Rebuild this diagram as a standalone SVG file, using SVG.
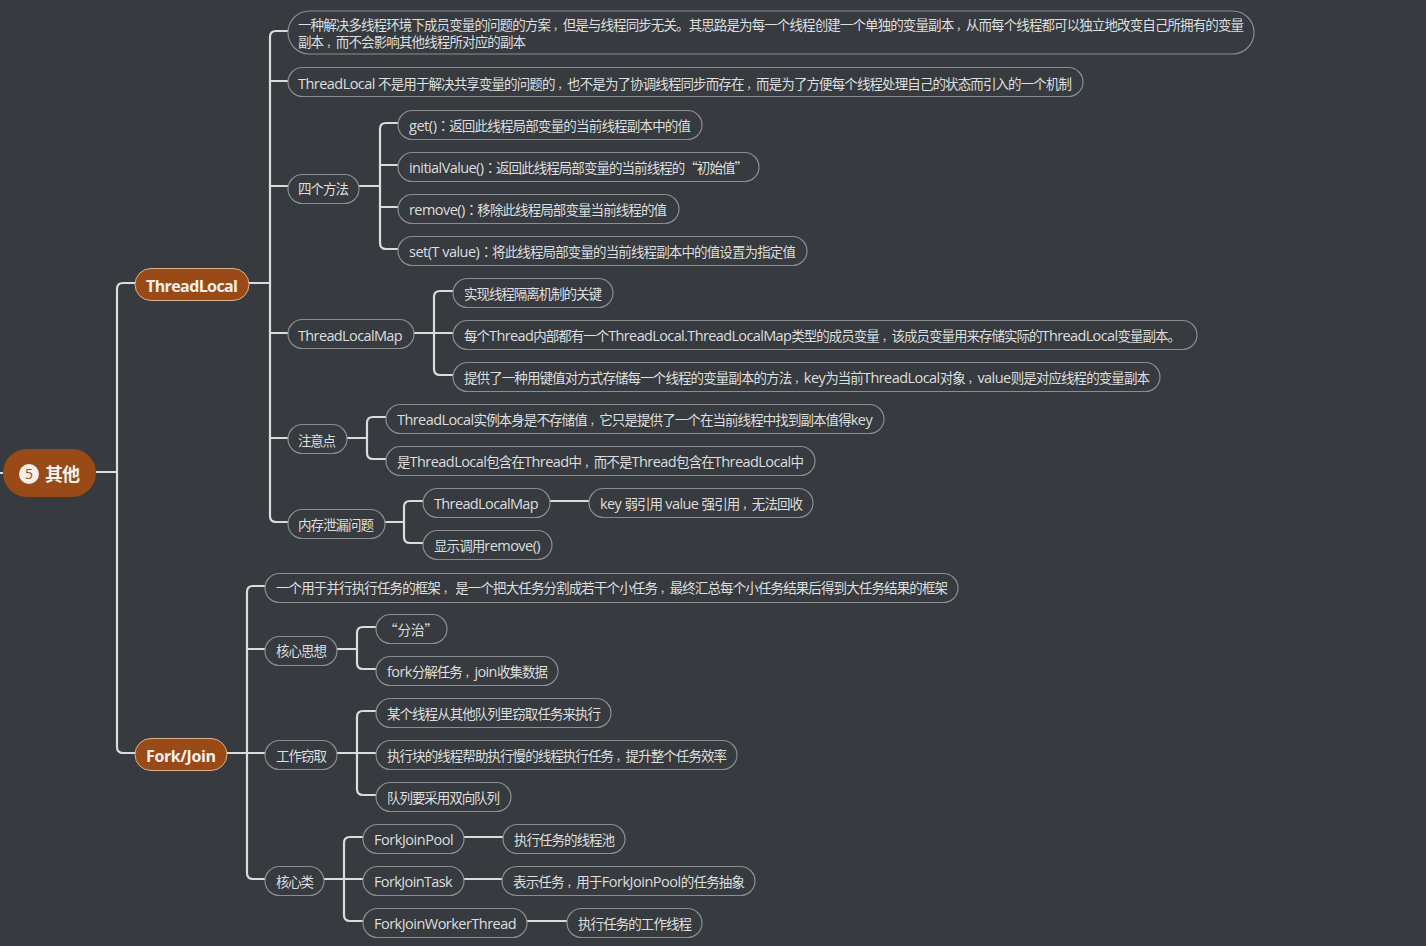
<svg xmlns="http://www.w3.org/2000/svg" width="1426" height="946" viewBox="0 0 1426 946">
<style>
text{font-family:"Open Sans","Noto Sans CJK SC",sans-serif;font-size:13.5px;fill:#dcdfdf}
.l{font-size:14.500px;letter-spacing:.35px}
.q{font-family:"Noto Sans CJK SC",sans-serif}
.c{font-family:"Noto Sans CJK TC",sans-serif}
.k{font-size:10.500px}
.n rect{fill:#373a3e;stroke:#8b8e90;stroke-width:1.2}
.t rect{fill:#9a4a17;stroke:#d9b38f;stroke-width:1}
.t text{font-size:16px;font-weight:700;fill:#f5f2ee}
#connectors path{fill:none;stroke:#dadddd;stroke-width:2.2}
</style>
<rect width="1426" height="946" fill="#373a3e"/>
<g id="connectors">
<path d="M0 473H3M96 472H117M135 283H123Q117 283 117 289V747Q117 753 123 753H135"/>
<path d="M249 283H270M288 31H276Q270 31 270 37V516Q270 522 276 522H288M270 81H288M270 186H288M270 333H288M270 438H288"/>
<path d="M359 186H380M398 123H386Q380 123 380 129V243Q380 249 386 249H398M380 165H398M380 207H398"/>
<path d="M414 333H434M453 291H440Q434 291 434 297V369Q434 375 440 375H453M434 333H453"/>
<path d="M347 438H367M386 417H373Q367 417 367 423V453Q367 459 373 459H386"/>
<path d="M385 522H404M423 501H410Q404 501 404 507V537Q404 543 410 543H423M550 501H589"/>
<path d="M227 753H265M265 586H253Q247 586 247 592V873Q247 879 253 879H265M247 649H265"/>
<path d="M337 649H357M376 627H363Q357 627 357 633V663Q357 669 363 669H376"/>
<path d="M337 753H376M376 711H363Q357 711 357 717V789Q357 795 363 795H376"/>
<path d="M324 879H363M363 837H350Q344 837 344 843V915Q344 921 350 921H363M464 837H503M464 879H502M527 921H567"/>
</g>
<g id="root" class="t"><rect x="3" y="449" width="93" height="48" rx="24" style="stroke:none"/><circle cx="29" cy="474" r="10" fill="#f7efe8"/><text x="29" y="479" text-anchor="middle" style="font-size:14px;font-weight:400;fill:#9a4a17">5</text><text x="45" y="481" textLength="35" style="font-size:18px">其他</text></g>
<g id="threadlocal" class="t"><rect x="135" y="268.500" width="114" height="32" rx="16"/><text x="146" y="292" textLength="92">ThreadLocal</text></g>
<g id="forkjoin" class="t"><rect x="135" y="738.500" width="92" height="32" rx="16"/><text x="146" y="762" textLength="70">Fork/Join</text></g>
<g id="a1" class="n"><rect x="288" y="11" width="966" height="43" rx="21.500"/><text x="298" y="30" textLength="946">一种解决多线程环境下成员变量的问题的方案<tspan dx="3" class="k">，</tspan>但是与线程同步无关。其思路是为每一个线程创建一个单独的变量副本<tspan dx="3" class="k">，</tspan>从而每个线程都可以独立地改变自己所拥有的变量</text><text x="298" y="47" textLength="228">副本<tspan dx="3" class="k">，</tspan>而不会影响其他线程所对应的副本</text></g>
<g id="a2" class="n"><rect x="288" y="67.500" width="795" height="29" rx="14.500"/><text x="298" y="89" textLength="774"><tspan class="l">ThreadLocal </tspan>不是用于解决共享变量的问题的<tspan dx="3" class="k">，</tspan>也不是为了协调线程同步而存在<tspan dx="3" class="k">，</tspan>而是为了方便每个线程处理自己的状态而引入的一个机制</text></g>
<g id="a3" class="n"><rect x="288" y="174.500" width="71" height="29" rx="14.500"/><text x="298" y="194" textLength="51">四个方法</text></g>
<g id="a3-1" class="n"><rect x="398" y="110.500" width="304" height="29" rx="14.500"/><text x="409" y="131" textLength="282"><tspan class="l">get()</tspan><tspan class="c">：</tspan>返回此线程局部变量的当前线程副本中的值</text></g>
<g id="a3-2" class="n"><rect x="398" y="152.500" width="361" height="29" rx="14.500"/><text x="409" y="173" textLength="339"><tspan class="l">initialValue()</tspan><tspan class="c">：</tspan>返回此线程局部变量的当前线程的<tspan class="q">“初始值”</tspan></text></g>
<g id="a3-3" class="n"><rect x="398" y="194.500" width="281" height="29" rx="14.500"/><text x="409" y="215" textLength="258"><tspan class="l">remove()</tspan><tspan class="c">：</tspan>移除此线程局部变量当前线程的值</text></g>
<g id="a3-4" class="n"><rect x="398" y="236.500" width="409" height="29" rx="14.500"/><text x="409" y="257" textLength="387"><tspan class="l">set(T value)</tspan><tspan class="c">：</tspan>将此线程局部变量的当前线程副本中的值设置为指定值</text></g>
<g id="a4" class="n"><rect x="288" y="319.500" width="126" height="29" rx="14.500"/><text x="298" y="341" textLength="105"><tspan class="l">ThreadLocalMap</tspan></text></g>
<g id="a4-1" class="n"><rect x="453" y="278.500" width="160" height="29" rx="14.500"/><text x="464" y="299" textLength="138">实现线程隔离机制的关键</text></g>
<g id="a4-2" class="n"><rect x="453" y="320.500" width="744" height="29" rx="14.500"/><text x="464" y="341" textLength="717">每个<tspan class="l">Thread</tspan>内部都有一个<tspan class="l">ThreadLocal.ThreadLocalMap</tspan>类型的成员变量<tspan dx="3" class="k">，</tspan>该成员变量用来存储实际的<tspan class="l">ThreadLocal</tspan>变量副本。</text></g>
<g id="a4-3" class="n"><rect x="453" y="362.500" width="707" height="29" rx="14.500"/><text x="464" y="383" textLength="686">提供了一种用键值对方式存储每一个线程的变量副本的方法<tspan dx="3" class="k">，</tspan><tspan class="l">key</tspan>为当前<tspan class="l">ThreadLocal</tspan>对象<tspan dx="3" class="k">，</tspan><tspan class="l">value</tspan>则是对应线程的变量副本</text></g>
<g id="a5" class="n"><rect x="288" y="424.500" width="59" height="29" rx="14.500"/><text x="298" y="446" textLength="38">注意点</text></g>
<g id="a5-1" class="n"><rect x="386" y="404.500" width="498" height="29" rx="14.500"/><text x="397" y="425" textLength="476"><tspan class="l">ThreadLocal</tspan>实例本身是不存储值<tspan dx="3" class="k">，</tspan>它只是提供了一个在当前线程中找到副本值得<tspan class="l">key</tspan></text></g>
<g id="a5-2" class="n"><rect x="386" y="446.500" width="429" height="29" rx="14.500"/><text x="397" y="467" textLength="407">是<tspan class="l">ThreadLocal</tspan>包含在<tspan class="l">Thread</tspan>中<tspan dx="3" class="k">，</tspan>而不是<tspan class="l">Thread</tspan>包含在<tspan class="l">ThreadLocal</tspan>中</text></g>
<g id="a6" class="n"><rect x="288" y="509.500" width="97" height="29" rx="14.500"/><text x="298" y="530" textLength="76">内存泄漏问题</text></g>
<g id="a6-1" class="n"><rect x="423" y="488.500" width="127" height="29" rx="14.500"/><text x="434" y="509" textLength="105"><tspan class="l">ThreadLocalMap</tspan></text></g>
<g id="a6-1-1" class="n"><rect x="589" y="488.500" width="224" height="29" rx="14.500"/><text x="600" y="509" textLength="203"><tspan class="l">key </tspan>弱引用<tspan class="l"> value </tspan>强引用<tspan dx="3" class="k">，</tspan>无法回收</text></g>
<g id="a6-2" class="n"><rect x="423" y="530.500" width="129" height="29" rx="14.500"/><text x="434" y="551" textLength="107">显示调用<tspan class="l">remove()</tspan></text></g>
<g id="b1" class="n"><rect x="265" y="573.500" width="693" height="29" rx="14.500"/><text x="276" y="593" textLength="672">一个用于并行执行任务的框架<tspan dx="3" class="k">，</tspan> 是一个把大任务分割成若干个小任务<tspan dx="3" class="k">，</tspan>最终汇总每个小任务结果后得到大任务结果的框架</text></g>
<g id="b2" class="n"><rect x="265" y="636.500" width="72" height="29" rx="14.500"/><text x="276" y="656" textLength="51">核心思想</text></g>
<g id="b2-1" class="n"><rect x="376" y="614.500" width="71" height="29" rx="14.500"/><text x="384" y="635" class="q">“分治”</text></g>
<g id="b2-2" class="n"><rect x="376" y="656.500" width="182" height="29" rx="14.500"/><text x="387" y="677" textLength="161"><tspan class="l">fork</tspan>分解任务<tspan dx="3" class="k">，</tspan><tspan class="l">join</tspan>收集数据</text></g>
<g id="b3" class="n"><rect x="265" y="740.500" width="72" height="29" rx="14.500"/><text x="276" y="761" textLength="51">工作窃取</text></g>
<g id="b3-1" class="n"><rect x="376" y="698.500" width="235" height="29" rx="14.500"/><text x="387" y="719" textLength="214">某个线程从其他队列里窃取任务来执行</text></g>
<g id="b3-2" class="n"><rect x="376" y="740.500" width="361" height="29" rx="14.500"/><text x="387" y="761" textLength="340">执行块的线程帮助执行慢的线程执行任务<tspan dx="3" class="k">，</tspan>提升整个任务效率</text></g>
<g id="b3-3" class="n"><rect x="376" y="782.500" width="135" height="29" rx="14.500"/><text x="387" y="803" textLength="113">队列要采用双向队列</text></g>
<g id="b4" class="n"><rect x="265" y="866.500" width="59" height="29" rx="14.500"/><text x="276" y="887" textLength="38">核心类</text></g>
<g id="b4-1" class="n"><rect x="363" y="824.500" width="101" height="29" rx="14.500"/><text x="374" y="845" textLength="80"><tspan class="l">ForkJoinPool</tspan></text></g>
<g id="b4-1-1" class="n"><rect x="503" y="824.500" width="122" height="29" rx="14.500"/><text x="514" y="845" textLength="101">执行任务的线程池</text></g>
<g id="b4-2" class="n"><rect x="363" y="866.500" width="101" height="29" rx="14.500"/><text x="374" y="887" textLength="79"><tspan class="l">ForkJoinTask</tspan></text></g>
<g id="b4-2-1" class="n"><rect x="502" y="866.500" width="253" height="29" rx="14.500"/><text x="513" y="887" textLength="232">表示任务<tspan dx="3" class="k">，</tspan>用于<tspan class="l">ForkJoinPool</tspan>的任务抽象</text></g>
<g id="b4-3" class="n"><rect x="363" y="908.500" width="164" height="29" rx="14.500"/><text x="374" y="929" textLength="143"><tspan class="l">ForkJoinWorkerThread</tspan></text></g>
<g id="b4-3-1" class="n"><rect x="567" y="908.500" width="135" height="29" rx="14.500"/><text x="578" y="929" textLength="114">执行任务的工作线程</text></g>
</svg>
